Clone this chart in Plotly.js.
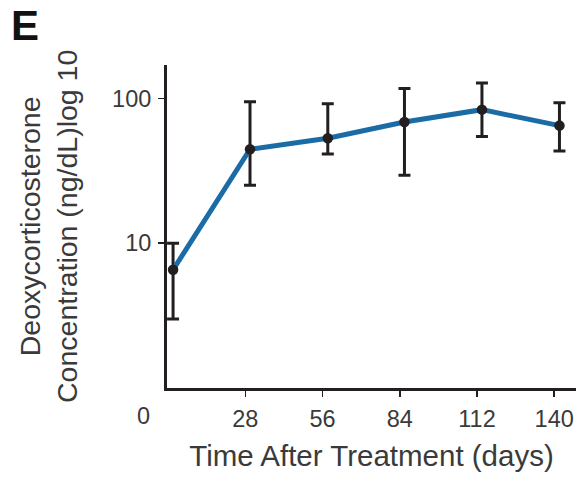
<!DOCTYPE html>
<html>
<head>
<meta charset="utf-8">
<script src="https://cdn.plot.ly/plotly-3.0.1.min.js"></script>
<style>html,body{margin:0;padding:0;background:#fff;}#chart{width:576px;height:477px;}</style>
</head>
<body>
<div id="chart"></div>
<script>
// Data
const days = [1.8, 29.7, 57.9, 85.7, 113.8, 141.9];
const concentration = [6.55, 44.5, 53.0, 68.7, 83.5, 64.8];
const errUpper = [10.0, 94.8, 91.9, 117.0, 127.5, 93.3];
const errLower = [2.99, 25.1, 41.3, 29.4, 54.5, 43.3];
const xTickVals = [28, 56, 84, 112, 140];
const xTickText = ["28", "56", "84", "112", "140"];
const yTickVals = [10, 100];
const yTickText = ["10", "100"];

const plus = concentration.map((v, i) => errUpper[i] - v);
const minus = concentration.map((v, i) => v - errLower[i]);

const FONT = "'Liberation Sans', Arial, sans-serif";
const INK = '#231f20';
const TXT = '#3a3a3a';

const trace = {
  x: days,
  y: concentration,
  type: 'scatter',
  mode: 'lines+markers',
  line: {color: '#1b6ca6', width: 5},
  marker: {color: INK, size: 10.5},
  error_y: {
    type: 'data', symmetric: false,
    array: plus, arrayminus: minus,
    color: INK, thickness: 3, width: 6
  },
  hoverinfo: 'skip'
};

const layout = {
  width: 576, height: 477,
  margin: {l: 167, r: 0, t: 65, b: 89},
  paper_bgcolor: '#fff', plot_bgcolor: '#fff',
  showlegend: false,
  font: {family: FONT, color: TXT, size: 20},
  xaxis: {
    range: [-0.4, 147.9],
    tickvals: xTickVals, ticktext: xTickText,
    showline: true, linecolor: INK, linewidth: 3,
    ticks: 'outside', ticklen: 6, tickwidth: 1.5, tickcolor: INK,
    showgrid: false, zeroline: false,
    tickfont: {family: FONT, size: 23.5, color: TXT},
    ticklabelstandoff: 2,
    title: {text: 'Time After Treatment (days)', font: {family: FONT, size: 29.5, color: TXT}, standoff: 15}
  },
  yaxis: {
    type: 'log',
    range: [0, 2.23],
    tickvals: yTickVals, ticktext: yTickText,
    showline: true, linecolor: INK, linewidth: 3,
    ticks: 'outside', ticklen: 6, tickwidth: 1.5, tickcolor: INK,
    showgrid: false, zeroline: false,
    tickfont: {family: FONT, size: 23.5, color: TXT},
    ticklabelstandoff: 2
  },
  annotations: [
    {text: '<b>E</b>', xref: 'paper', yref: 'paper', x: -167/409, y: 1 + 65/323,
     xanchor: 'left', yanchor: 'top', xshift: 9, yshift: 0, showarrow: false,
     font: {family: FONT, size: 42, color: '#111'}},
    {text: 'Deoxycorticosterone<br>Concentration (ng/dL)log 10', xref: 'paper', yref: 'paper',
     x: -167/409, y: 0.5, xanchor: 'left', yanchor: 'middle', xshift: 12,
     textangle: -90, showarrow: false,
     font: {family: FONT, size: 28.5, color: TXT}},
    {text: '0', xref: 'x', yref: 'paper', x: 0, y: 0, xshift: -25, yshift: -28,
     xanchor: 'center', yanchor: 'middle', showarrow: false,
     font: {family: FONT, size: 23.5, color: TXT}}
  ]
};

Plotly.newPlot('chart', [trace], layout, {displayModeBar: false, staticPlot: true});
</script>
</body>
</html>
